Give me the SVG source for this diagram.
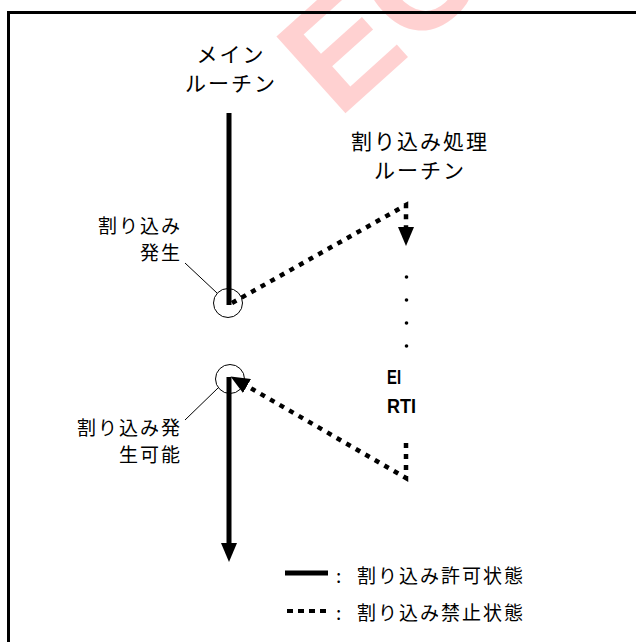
<svg xmlns="http://www.w3.org/2000/svg" width="636" height="642" viewBox="0 0 636 642">
<style>
.lbl{font-family:"Noto Sans CJK JP","Noto Sans",sans-serif;fill:#000;letter-spacing:2px}
.t{font-size:21px;text-anchor:middle}
.s{font-size:19px;text-anchor:end}
.lg{font-size:19px}
.ins{font-family:"Liberation Sans",Arial,sans-serif;font-weight:bold;font-size:21px}
.solid{stroke:#000;stroke-width:5;fill:none}
.dot{stroke:#000;stroke-width:4.5;fill:none;stroke-dasharray:5 6}
.thin{stroke:#000;stroke-width:1;fill:none}
</style>
<defs>
<marker id="ah" markerUnits="userSpaceOnUse" markerWidth="20" markerHeight="16" viewBox="0 0 20 16" refX="0" refY="8" orient="auto">
<path d="M0,0 L19,8 L0,16 z" fill="#000"/>
</marker>
</defs>
<rect width="636" height="642" fill="#fff"/>
<text id="watermark" transform="translate(338,120) rotate(-42)" font-family="Liberation Sans,Arial,sans-serif" font-weight="bold" font-size="150" fill="#ff0000" fill-opacity="0.18">EC</text>
<path id="frame" d="M8.5,642 V12.5 H636" stroke="#000" stroke-width="3" fill="none"/>
<g id="connectors">
<line class="solid" x1="229" y1="113" x2="229" y2="305"/>
<line class="solid" x1="229" y1="377" x2="229" y2="543" marker-end="url(#ah)"/>
<polyline class="dot" points="232,303 406,205 406,227" marker-end="url(#ah)"/>
<polyline class="dot" points="406,443 406,478 247,386" marker-end="url(#ah)"/>
<line class="thin" x1="185" y1="263" x2="217" y2="293"/>
<line class="thin" x1="185" y1="420" x2="218" y2="388"/>
</g>
<g id="main-label">
<text class="lbl t" x="231" y="62">メイン</text>
<text class="lbl t" x="231" y="91">ルーチン</text>
</g>
<g id="isr-label">
<text class="lbl t" x="420" y="149">割り込み処理</text>
<text class="lbl t" x="420" y="178">ルーチン</text>
</g>
<g id="irq-occur">
<circle class="thin" cx="228" cy="303" r="14.5"/>
<text class="lbl s" x="182" y="233">割り込み</text>
<text class="lbl s" x="182" y="260">発生</text>
</g>
<g id="irq-enable">
<circle class="thin" cx="230" cy="379" r="14.5"/>
<text class="lbl s" x="182" y="435">割り込み発</text>
<text class="lbl s" x="182" y="462">生可能</text>
</g>
<g id="isr-body">
<circle cx="406.5" cy="277" r="1.8" fill="#000"/>
<circle cx="406.5" cy="300" r="1.8" fill="#000"/>
<circle cx="406.5" cy="323" r="1.8" fill="#000"/>
<circle cx="406.5" cy="346" r="1.8" fill="#000"/>
<text class="ins" x="387" y="384" textLength="14" lengthAdjust="spacingAndGlyphs">EI</text>
<text class="ins" x="387" y="413" textLength="29" lengthAdjust="spacingAndGlyphs">RTI</text>
</g>
<g id="legend">
<line class="solid" x1="285" y1="573" x2="328" y2="573"/>
<text class="lbl lg" x="336" y="583">:</text>
<text class="lbl lg" x="357" y="583">割り込み許可状態</text>
<line x1="287" y1="611" x2="330" y2="611" stroke="#000" stroke-width="4" stroke-dasharray="6 5"/>
<text class="lbl lg" x="336" y="620">:</text>
<text class="lbl lg" x="357" y="620">割り込み禁止状態</text>
</g>
</svg>
